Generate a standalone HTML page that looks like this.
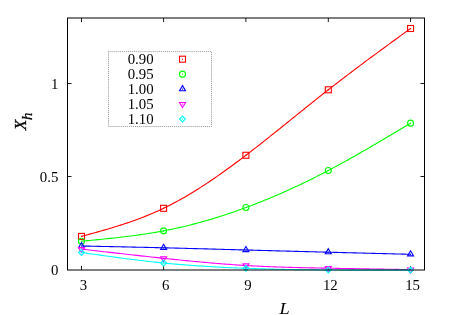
<!DOCTYPE html>
<html><head><meta charset="utf-8"><title>plot</title><style>html,body{margin:0;padding:0;background:#fff}body{width:450px;height:315px;position:relative;overflow:hidden}</style></head><body>
<svg width="450" height="315" viewBox="0 0 450 315" style="position:absolute;left:0;top:0;will-change:transform">
<path d="M81.50,270.0 v-4 M81.50,18.0 v4" stroke="#1a1a1a" stroke-width="1" fill="none"/>
<path d="M163.60,270.0 v-4 M163.60,18.0 v4" stroke="#1a1a1a" stroke-width="1" fill="none"/>
<path d="M245.90,270.0 v-4 M245.90,18.0 v4" stroke="#1a1a1a" stroke-width="1" fill="none"/>
<path d="M328.30,270.0 v-4 M328.30,18.0 v4" stroke="#1a1a1a" stroke-width="1" fill="none"/>
<path d="M410.55,270.0 v-4 M410.55,18.0 v4" stroke="#1a1a1a" stroke-width="1" fill="none"/>
<path d="M67.5,176.50 h4 M424.5,176.50 h-4" stroke="#1a1a1a" stroke-width="1" fill="none"/>
<path d="M67.5,83.50 h4 M424.5,83.50 h-4" stroke="#1a1a1a" stroke-width="1" fill="none"/>
<rect x="108.5" y="51.6" width="103" height="74.9" fill="none" stroke="#999" stroke-width="1" stroke-dasharray="1,0.95"/>
<path d="M81.50,236.40 L83.55,235.84 L85.61,235.28 L87.66,234.72 L89.71,234.15 L91.76,233.59 L93.81,233.02 L95.87,232.45 L97.92,231.87 L99.97,231.29 L102.03,230.71 L104.08,230.12 L106.13,229.52 L108.18,228.92 L110.23,228.31 L112.29,227.69 L114.34,227.07 L116.39,226.44 L118.44,225.79 L120.50,225.14 L122.55,224.48 L124.60,223.81 L126.66,223.13 L128.71,222.43 L130.76,221.72 L132.81,221.00 L134.87,220.27 L136.92,219.52 L138.97,218.76 L141.02,217.98 L143.07,217.19 L145.13,216.38 L147.18,215.56 L149.23,214.72 L151.28,213.86 L153.34,212.98 L155.39,212.08 L157.44,211.17 L159.50,210.23 L161.55,209.28 L163.60,208.30 L165.66,207.30 L167.72,206.28 L169.77,205.24 L171.83,204.18 L173.89,203.09 L175.94,201.99 L178.00,200.87 L180.06,199.73 L182.12,198.57 L184.18,197.40 L186.23,196.20 L188.29,194.99 L190.35,193.76 L192.41,192.51 L194.46,191.25 L196.52,189.97 L198.58,188.67 L200.63,187.36 L202.69,186.03 L204.75,184.69 L206.81,183.34 L208.87,181.97 L210.92,180.58 L212.98,179.19 L215.04,177.77 L217.09,176.35 L219.15,174.92 L221.21,173.47 L223.27,172.01 L225.32,170.54 L227.38,169.05 L229.44,167.56 L231.50,166.06 L233.56,164.54 L235.61,163.02 L237.67,161.49 L239.73,159.95 L241.78,158.40 L243.84,156.84 L245.90,155.27 L247.96,153.69 L250.02,152.11 L252.08,150.52 L254.14,148.92 L256.20,147.32 L258.26,145.71 L260.32,144.09 L262.38,142.47 L264.44,140.85 L266.50,139.22 L268.56,137.58 L270.62,135.94 L272.68,134.30 L274.74,132.65 L276.80,131.01 L278.86,129.35 L280.92,127.70 L282.98,126.05 L285.04,124.39 L287.10,122.73 L289.16,121.07 L291.22,119.41 L293.28,117.75 L295.34,116.09 L297.40,114.43 L299.46,112.77 L301.52,111.11 L303.58,109.45 L305.64,107.80 L307.70,106.15 L309.76,104.50 L311.82,102.85 L313.88,101.20 L315.94,99.56 L318.00,97.92 L320.06,96.29 L322.12,94.66 L324.18,93.03 L326.24,91.41 L328.30,89.80 L330.41,88.15 L332.52,86.51 L334.63,84.88 L336.74,83.25 L338.84,81.62 L340.95,80.00 L343.06,78.39 L345.17,76.78 L347.28,75.18 L349.39,73.58 L351.50,71.98 L353.61,70.39 L355.72,68.80 L357.83,67.22 L359.93,65.64 L362.04,64.07 L364.15,62.49 L366.26,60.93 L368.37,59.36 L370.48,57.80 L372.59,56.24 L374.70,54.68 L376.81,53.13 L378.92,51.58 L381.02,50.03 L383.13,48.48 L385.24,46.94 L387.35,45.39 L389.46,43.85 L391.57,42.31 L393.68,40.78 L395.79,39.24 L397.90,37.70 L400.01,36.17 L402.11,34.63 L404.22,33.10 L406.33,31.57 L408.44,30.03 L410.55,28.50" fill="none" stroke="#ff0000" stroke-width="1.1" stroke-linejoin="round"/>
<rect x="78.50" y="233.40" width="6.00" height="6.00" fill="none" stroke="#ff0000" stroke-width="1.1"/><rect x="80.95" y="235.85" width="1.1" height="1.1" fill="#ff0000"/>
<rect x="160.60" y="205.30" width="6.00" height="6.00" fill="none" stroke="#ff0000" stroke-width="1.1"/><rect x="163.05" y="207.75" width="1.1" height="1.1" fill="#ff0000"/>
<rect x="242.90" y="152.27" width="6.00" height="6.00" fill="none" stroke="#ff0000" stroke-width="1.1"/><rect x="245.35" y="154.72" width="1.1" height="1.1" fill="#ff0000"/>
<rect x="325.30" y="86.80" width="6.00" height="6.00" fill="none" stroke="#ff0000" stroke-width="1.1"/><rect x="327.75" y="89.25" width="1.1" height="1.1" fill="#ff0000"/>
<rect x="407.55" y="25.50" width="6.00" height="6.00" fill="none" stroke="#ff0000" stroke-width="1.1"/><rect x="410.00" y="27.95" width="1.1" height="1.1" fill="#ff0000"/>
<path d="M81.50,241.20 L83.55,241.01 L85.61,240.81 L87.66,240.62 L89.71,240.43 L91.76,240.23 L93.81,240.04 L95.87,239.84 L97.92,239.64 L99.97,239.44 L102.03,239.23 L104.08,239.03 L106.13,238.82 L108.18,238.61 L110.23,238.39 L112.29,238.17 L114.34,237.95 L116.39,237.72 L118.44,237.49 L120.50,237.26 L122.55,237.02 L124.60,236.77 L126.66,236.52 L128.71,236.27 L130.76,236.01 L132.81,235.74 L134.87,235.47 L136.92,235.19 L138.97,234.90 L141.02,234.61 L143.07,234.31 L145.13,234.00 L147.18,233.68 L149.23,233.36 L151.28,233.03 L153.34,232.69 L155.39,232.34 L157.44,231.98 L159.50,231.61 L161.55,231.24 L163.60,230.85 L165.66,230.45 L167.72,230.05 L169.77,229.63 L171.83,229.20 L173.89,228.76 L175.94,228.32 L178.00,227.86 L180.06,227.40 L182.12,226.92 L184.18,226.43 L186.23,225.94 L188.29,225.43 L190.35,224.92 L192.41,224.40 L194.46,223.86 L196.52,223.32 L198.58,222.77 L200.63,222.21 L202.69,221.64 L204.75,221.06 L206.81,220.47 L208.87,219.87 L210.92,219.26 L212.98,218.65 L215.04,218.02 L217.09,217.39 L219.15,216.74 L221.21,216.09 L223.27,215.43 L225.32,214.76 L227.38,214.08 L229.44,213.39 L231.50,212.69 L233.56,211.99 L235.61,211.27 L237.67,210.55 L239.73,209.82 L241.78,209.08 L243.84,208.33 L245.90,207.57 L247.96,206.80 L250.02,206.03 L252.08,205.24 L254.14,204.45 L256.20,203.65 L258.26,202.84 L260.32,202.02 L262.38,201.20 L264.44,200.36 L266.50,199.52 L268.56,198.67 L270.62,197.81 L272.68,196.95 L274.74,196.07 L276.80,195.19 L278.86,194.29 L280.92,193.39 L282.98,192.49 L285.04,191.57 L287.10,190.65 L289.16,189.71 L291.22,188.77 L293.28,187.83 L295.34,186.87 L297.40,185.90 L299.46,184.93 L301.52,183.95 L303.58,182.96 L305.64,181.97 L307.70,180.96 L309.76,179.95 L311.82,178.93 L313.88,177.91 L315.94,176.87 L318.00,175.83 L320.06,174.78 L322.12,173.72 L324.18,172.65 L326.24,171.58 L328.30,170.50 L330.41,169.39 L332.52,168.26 L334.63,167.13 L336.74,166.00 L338.84,164.85 L340.95,163.70 L343.06,162.54 L345.17,161.38 L347.28,160.21 L349.39,159.03 L351.50,157.85 L353.61,156.66 L355.72,155.46 L357.83,154.26 L359.93,153.06 L362.04,151.85 L364.15,150.63 L366.26,149.41 L368.37,148.19 L370.48,146.96 L372.59,145.73 L374.70,144.50 L376.81,143.26 L378.92,142.02 L381.02,140.77 L383.13,139.53 L385.24,138.28 L387.35,137.02 L389.46,135.77 L391.57,134.51 L393.68,133.25 L395.79,131.99 L397.90,130.73 L400.01,129.47 L402.11,128.20 L404.22,126.94 L406.33,125.67 L408.44,124.41 L410.55,123.14" fill="none" stroke="#00ff00" stroke-width="1.1" stroke-linejoin="round"/>
<circle cx="81.50" cy="241.20" r="3.00" fill="none" stroke="#00ff00" stroke-width="1.1"/><rect x="80.95" y="240.65" width="1.1" height="1.1" fill="#00ff00"/>
<circle cx="163.60" cy="230.85" r="3.00" fill="none" stroke="#00ff00" stroke-width="1.1"/><rect x="163.05" y="230.30" width="1.1" height="1.1" fill="#00ff00"/>
<circle cx="245.90" cy="207.57" r="3.00" fill="none" stroke="#00ff00" stroke-width="1.1"/><rect x="245.35" y="207.02" width="1.1" height="1.1" fill="#00ff00"/>
<circle cx="328.30" cy="170.50" r="3.00" fill="none" stroke="#00ff00" stroke-width="1.1"/><rect x="327.75" y="169.95" width="1.1" height="1.1" fill="#00ff00"/>
<circle cx="410.55" cy="123.14" r="3.00" fill="none" stroke="#00ff00" stroke-width="1.1"/><rect x="410.00" y="122.59" width="1.1" height="1.1" fill="#00ff00"/>
<path d="M81.50,246.00 L83.55,246.04 L85.61,246.08 L87.66,246.13 L89.71,246.17 L91.76,246.21 L93.81,246.25 L95.87,246.30 L97.92,246.34 L99.97,246.38 L102.03,246.43 L104.08,246.47 L106.13,246.51 L108.18,246.55 L110.23,246.60 L112.29,246.64 L114.34,246.69 L116.39,246.73 L118.44,246.77 L120.50,246.82 L122.55,246.86 L124.60,246.91 L126.66,246.95 L128.71,246.99 L130.76,247.04 L132.81,247.09 L134.87,247.13 L136.92,247.18 L138.97,247.22 L141.02,247.27 L143.07,247.32 L145.13,247.36 L147.18,247.41 L149.23,247.46 L151.28,247.51 L153.34,247.55 L155.39,247.60 L157.44,247.65 L159.50,247.70 L161.55,247.75 L163.60,247.80 L165.66,247.85 L167.72,247.90 L169.77,247.95 L171.83,248.00 L173.89,248.06 L175.94,248.11 L178.00,248.16 L180.06,248.21 L182.12,248.27 L184.18,248.32 L186.23,248.37 L188.29,248.43 L190.35,248.48 L192.41,248.54 L194.46,248.59 L196.52,248.65 L198.58,248.70 L200.63,248.76 L202.69,248.81 L204.75,248.87 L206.81,248.92 L208.87,248.98 L210.92,249.04 L212.98,249.09 L215.04,249.15 L217.09,249.21 L219.15,249.26 L221.21,249.32 L223.27,249.38 L225.32,249.43 L227.38,249.49 L229.44,249.55 L231.50,249.60 L233.56,249.66 L235.61,249.72 L237.67,249.77 L239.73,249.83 L241.78,249.89 L243.84,249.94 L245.90,250.00 L247.96,250.06 L250.02,250.11 L252.08,250.17 L254.14,250.23 L256.20,250.28 L258.26,250.34 L260.32,250.39 L262.38,250.45 L264.44,250.51 L266.50,250.56 L268.56,250.62 L270.62,250.67 L272.68,250.73 L274.74,250.78 L276.80,250.84 L278.86,250.89 L280.92,250.95 L282.98,251.01 L285.04,251.06 L287.10,251.12 L289.16,251.17 L291.22,251.23 L293.28,251.28 L295.34,251.33 L297.40,251.39 L299.46,251.44 L301.52,251.50 L303.58,251.55 L305.64,251.61 L307.70,251.66 L309.76,251.72 L311.82,251.77 L313.88,251.82 L315.94,251.88 L318.00,251.93 L320.06,251.99 L322.12,252.04 L324.18,252.09 L326.24,252.15 L328.30,252.20 L330.41,252.25 L332.52,252.31 L334.63,252.36 L336.74,252.42 L338.84,252.47 L340.95,252.53 L343.06,252.58 L345.17,252.64 L347.28,252.69 L349.39,252.74 L351.50,252.80 L353.61,252.85 L355.72,252.91 L357.83,252.96 L359.93,253.01 L362.04,253.07 L364.15,253.12 L366.26,253.18 L368.37,253.23 L370.48,253.28 L372.59,253.34 L374.70,253.39 L376.81,253.44 L378.92,253.50 L381.02,253.55 L383.13,253.61 L385.24,253.66 L387.35,253.71 L389.46,253.77 L391.57,253.82 L393.68,253.87 L395.79,253.93 L397.90,253.98 L400.01,254.03 L402.11,254.09 L404.22,254.14 L406.33,254.19 L408.44,254.25 L410.55,254.30" fill="none" stroke="#0000ff" stroke-width="1.1" stroke-linejoin="round"/>
<path d="M81.50,242.50 L84.50,247.60 L78.50,247.60 Z" fill="none" stroke="#0000ff" stroke-width="1.1"/><rect x="80.95" y="245.45" width="1.1" height="1.1" fill="#0000ff"/>
<path d="M163.60,244.30 L166.60,249.40 L160.60,249.40 Z" fill="none" stroke="#0000ff" stroke-width="1.1"/><rect x="163.05" y="247.25" width="1.1" height="1.1" fill="#0000ff"/>
<path d="M245.90,246.50 L248.90,251.60 L242.90,251.60 Z" fill="none" stroke="#0000ff" stroke-width="1.1"/><rect x="245.35" y="249.45" width="1.1" height="1.1" fill="#0000ff"/>
<path d="M328.30,248.70 L331.30,253.80 L325.30,253.80 Z" fill="none" stroke="#0000ff" stroke-width="1.1"/><rect x="327.75" y="251.65" width="1.1" height="1.1" fill="#0000ff"/>
<path d="M410.55,250.80 L413.55,255.90 L407.55,255.90 Z" fill="none" stroke="#0000ff" stroke-width="1.1"/><rect x="410.00" y="253.75" width="1.1" height="1.1" fill="#0000ff"/>
<path d="M81.50,249.10 L83.55,249.34 L85.61,249.57 L87.66,249.81 L89.71,250.04 L91.76,250.28 L93.81,250.52 L95.87,250.75 L97.92,250.99 L99.97,251.22 L102.03,251.46 L104.08,251.69 L106.13,251.93 L108.18,252.16 L110.23,252.39 L112.29,252.63 L114.34,252.86 L116.39,253.09 L118.44,253.33 L120.50,253.56 L122.55,253.79 L124.60,254.02 L126.66,254.25 L128.71,254.48 L130.76,254.71 L132.81,254.94 L134.87,255.17 L136.92,255.40 L138.97,255.63 L141.02,255.85 L143.07,256.08 L145.13,256.31 L147.18,256.53 L149.23,256.75 L151.28,256.98 L153.34,257.20 L155.39,257.42 L157.44,257.64 L159.50,257.86 L161.55,258.08 L163.60,258.30 L165.66,258.52 L167.72,258.73 L169.77,258.95 L171.83,259.17 L173.89,259.38 L175.94,259.59 L178.00,259.80 L180.06,260.01 L182.12,260.22 L184.18,260.43 L186.23,260.63 L188.29,260.83 L190.35,261.03 L192.41,261.23 L194.46,261.43 L196.52,261.63 L198.58,261.82 L200.63,262.01 L202.69,262.20 L204.75,262.38 L206.81,262.57 L208.87,262.75 L210.92,262.93 L212.98,263.10 L215.04,263.28 L217.09,263.45 L219.15,263.62 L221.21,263.78 L223.27,263.94 L225.32,264.10 L227.38,264.26 L229.44,264.41 L231.50,264.56 L233.56,264.70 L235.61,264.85 L237.67,264.98 L239.73,265.12 L241.78,265.25 L243.84,265.38 L245.90,265.50 L247.96,265.62 L250.02,265.74 L252.08,265.85 L254.14,265.96 L256.20,266.06 L258.26,266.16 L260.32,266.26 L262.38,266.35 L264.44,266.45 L266.50,266.53 L268.56,266.62 L270.62,266.70 L272.68,266.78 L274.74,266.86 L276.80,266.93 L278.86,267.00 L280.92,267.07 L282.98,267.14 L285.04,267.21 L287.10,267.27 L289.16,267.33 L291.22,267.39 L293.28,267.44 L295.34,267.50 L297.40,267.55 L299.46,267.60 L301.52,267.65 L303.58,267.70 L305.64,267.75 L307.70,267.79 L309.76,267.84 L311.82,267.88 L313.88,267.92 L315.94,267.96 L318.00,268.00 L320.06,268.04 L322.12,268.08 L324.18,268.12 L326.24,268.16 L328.30,268.20 L330.41,268.24 L332.52,268.28 L334.63,268.32 L336.74,268.35 L338.84,268.39 L340.95,268.43 L343.06,268.47 L345.17,268.51 L347.28,268.54 L349.39,268.58 L351.50,268.62 L353.61,268.65 L355.72,268.69 L357.83,268.73 L359.93,268.76 L362.04,268.80 L364.15,268.83 L366.26,268.87 L368.37,268.91 L370.48,268.94 L372.59,268.98 L374.70,269.01 L376.81,269.05 L378.92,269.08 L381.02,269.12 L383.13,269.15 L385.24,269.19 L387.35,269.22 L389.46,269.26 L391.57,269.29 L393.68,269.32 L395.79,269.36 L397.90,269.39 L400.01,269.43 L402.11,269.46 L404.22,269.50 L406.33,269.53 L408.44,269.57 L410.55,269.60" fill="none" stroke="#ff00ff" stroke-width="1.1" stroke-linejoin="round"/>
<path d="M81.50,252.60 L84.50,247.50 L78.50,247.50 Z" fill="none" stroke="#ff00ff" stroke-width="1.1"/><rect x="80.95" y="248.55" width="1.1" height="1.1" fill="#ff00ff"/>
<path d="M163.60,261.80 L166.60,256.70 L160.60,256.70 Z" fill="none" stroke="#ff00ff" stroke-width="1.1"/><rect x="163.05" y="257.75" width="1.1" height="1.1" fill="#ff00ff"/>
<path d="M245.90,269.00 L248.90,263.90 L242.90,263.90 Z" fill="none" stroke="#ff00ff" stroke-width="1.1"/><rect x="245.35" y="264.95" width="1.1" height="1.1" fill="#ff00ff"/>
<path d="M328.30,271.70 L331.30,266.60 L325.30,266.60 Z" fill="none" stroke="#ff00ff" stroke-width="1.1"/><rect x="327.75" y="267.65" width="1.1" height="1.1" fill="#ff00ff"/>
<path d="M410.55,273.10 L413.55,268.00 L407.55,268.00 Z" fill="none" stroke="#ff00ff" stroke-width="1.1"/><rect x="410.00" y="269.05" width="1.1" height="1.1" fill="#ff00ff"/>
<path d="M81.50,252.50 L83.55,252.79 L85.61,253.08 L87.66,253.37 L89.71,253.67 L91.76,253.96 L93.81,254.25 L95.87,254.54 L97.92,254.82 L99.97,255.11 L102.03,255.40 L104.08,255.68 L106.13,255.97 L108.18,256.25 L110.23,256.53 L112.29,256.81 L114.34,257.09 L116.39,257.37 L118.44,257.64 L120.50,257.92 L122.55,258.19 L124.60,258.46 L126.66,258.72 L128.71,258.99 L130.76,259.25 L132.81,259.51 L134.87,259.76 L136.92,260.02 L138.97,260.27 L141.02,260.51 L143.07,260.76 L145.13,261.00 L147.18,261.24 L149.23,261.47 L151.28,261.70 L153.34,261.93 L155.39,262.15 L157.44,262.37 L159.50,262.58 L161.55,262.79 L163.60,263.00 L165.66,263.20 L167.72,263.40 L169.77,263.59 L171.83,263.78 L173.89,263.97 L175.94,264.15 L178.00,264.33 L180.06,264.50 L182.12,264.67 L184.18,264.84 L186.23,265.00 L188.29,265.16 L190.35,265.31 L192.41,265.46 L194.46,265.61 L196.52,265.75 L198.58,265.89 L200.63,266.03 L202.69,266.16 L204.75,266.29 L206.81,266.42 L208.87,266.54 L210.92,266.66 L212.98,266.78 L215.04,266.90 L217.09,267.01 L219.15,267.12 L221.21,267.22 L223.27,267.33 L225.32,267.43 L227.38,267.53 L229.44,267.62 L231.50,267.71 L233.56,267.80 L235.61,267.89 L237.67,267.98 L239.73,268.06 L241.78,268.14 L243.84,268.22 L245.90,268.30 L247.96,268.38 L250.02,268.45 L252.08,268.52 L254.14,268.59 L256.20,268.66 L258.26,268.72 L260.32,268.79 L262.38,268.85 L264.44,268.91 L266.50,268.96 L268.56,269.02 L270.62,269.08 L272.68,269.13 L274.74,269.18 L276.80,269.23 L278.86,269.28 L280.92,269.32 L282.98,269.37 L285.04,269.41 L287.10,269.45 L289.16,269.49 L291.22,269.53 L293.28,269.57 L295.34,269.60 L297.40,269.64 L299.46,269.67 L301.52,269.70 L303.58,269.73 L305.64,269.76 L307.70,269.79 L309.76,269.82 L311.82,269.84 L313.88,269.86 L315.94,269.89 L318.00,269.91 L320.06,269.93 L322.12,269.95 L324.18,269.97 L326.24,269.98 L328.30,270.00 L330.41,270.02 L332.52,270.03 L334.63,270.04 L336.74,270.06 L338.84,270.07 L340.95,270.08 L343.06,270.09 L345.17,270.10 L347.28,270.11 L349.39,270.11 L351.50,270.12 L353.61,270.13 L355.72,270.13 L357.83,270.14 L359.93,270.14 L362.04,270.14 L364.15,270.14 L366.26,270.15 L368.37,270.15 L370.48,270.15 L372.59,270.15 L374.70,270.15 L376.81,270.15 L378.92,270.15 L381.02,270.15 L383.13,270.14 L385.24,270.14 L387.35,270.14 L389.46,270.14 L391.57,270.13 L393.68,270.13 L395.79,270.13 L397.90,270.12 L400.01,270.12 L402.11,270.12 L404.22,270.11 L406.33,270.11 L408.44,270.10 L410.55,270.10" fill="none" stroke="#00ffff" stroke-width="1.1" stroke-linejoin="round"/>
<path d="M81.50,249.65 L84.35,252.50 L81.50,255.35 L78.65,252.50 Z" fill="none" stroke="#00ffff" stroke-width="1.1"/><rect x="80.95" y="251.95" width="1.1" height="1.1" fill="#00ffff"/>
<path d="M163.60,260.15 L166.45,263.00 L163.60,265.85 L160.75,263.00 Z" fill="none" stroke="#00ffff" stroke-width="1.1"/><rect x="163.05" y="262.45" width="1.1" height="1.1" fill="#00ffff"/>
<path d="M245.90,265.45 L248.75,268.30 L245.90,271.15 L243.05,268.30 Z" fill="none" stroke="#00ffff" stroke-width="1.1"/><rect x="245.35" y="267.75" width="1.1" height="1.1" fill="#00ffff"/>
<path d="M328.30,267.15 L331.15,270.00 L328.30,272.85 L325.45,270.00 Z" fill="none" stroke="#00ffff" stroke-width="1.1"/><rect x="327.75" y="269.45" width="1.1" height="1.1" fill="#00ffff"/>
<path d="M410.55,267.25 L413.40,270.10 L410.55,272.95 L407.70,270.10 Z" fill="none" stroke="#00ffff" stroke-width="1.1"/><rect x="410.00" y="269.55" width="1.1" height="1.1" fill="#00ffff"/>
<rect x="67.5" y="18.0" width="357.0" height="252.0" fill="none" stroke="#000" stroke-width="1"/>
<rect x="179.50" y="56.20" width="6.00" height="6.00" fill="none" stroke="#ff0000" stroke-width="1.1"/><rect x="181.95" y="58.65" width="1.1" height="1.1" fill="#ff0000"/>
<circle cx="182.50" cy="74.15" r="3.00" fill="none" stroke="#00ff00" stroke-width="1.1"/><rect x="181.95" y="73.60" width="1.1" height="1.1" fill="#00ff00"/>
<path d="M182.50,85.60 L185.50,90.70 L179.50,90.70 Z" fill="none" stroke="#0000ff" stroke-width="1.1"/><rect x="181.95" y="88.55" width="1.1" height="1.1" fill="#0000ff"/>
<path d="M182.50,107.55 L185.50,102.45 L179.50,102.45 Z" fill="none" stroke="#ff00ff" stroke-width="1.1"/><rect x="181.95" y="103.50" width="1.1" height="1.1" fill="#ff00ff"/>
<path d="M182.50,116.15 L185.35,119.00 L182.50,121.85 L179.65,119.00 Z" fill="none" stroke="#00ffff" stroke-width="1.1"/><rect x="181.95" y="118.45" width="1.1" height="1.1" fill="#00ffff"/>
<text transform="translate(83.50,290.3) scale(1.03,1)" text-anchor="middle" style="font-family:'Liberation Serif',serif;font-size:14.4px;fill:#000">3</text>
<text transform="translate(165.60,290.3) scale(1.03,1)" text-anchor="middle" style="font-family:'Liberation Serif',serif;font-size:14.4px;fill:#000">6</text>
<text transform="translate(247.90,290.3) scale(1.03,1)" text-anchor="middle" style="font-family:'Liberation Serif',serif;font-size:14.4px;fill:#000">9</text>
<text transform="translate(330.30,290.3) scale(1.03,1)" text-anchor="middle" style="font-family:'Liberation Serif',serif;font-size:14.4px;fill:#000">12</text>
<text transform="translate(412.55,290.3) scale(1.03,1)" text-anchor="middle" style="font-family:'Liberation Serif',serif;font-size:14.4px;fill:#000">15</text>
<text transform="translate(58.4,274.50) scale(1.03,1)" text-anchor="end" style="font-family:'Liberation Serif',serif;font-size:14.4px;fill:#000">0</text>
<text transform="translate(58.4,181.50) scale(1.03,1)" text-anchor="end" style="font-family:'Liberation Serif',serif;font-size:14.4px;fill:#000">0.5</text>
<text transform="translate(58.4,88.50) scale(1.03,1)" text-anchor="end" style="font-family:'Liberation Serif',serif;font-size:14.4px;fill:#000">1</text>
<text transform="translate(153.6,63.80) scale(1.03,1)" text-anchor="end" style="font-family:'Liberation Serif',serif;font-size:14.4px;fill:#000">0.90</text>
<text transform="translate(153.6,78.75) scale(1.03,1)" text-anchor="end" style="font-family:'Liberation Serif',serif;font-size:14.4px;fill:#000">0.95</text>
<text transform="translate(153.6,93.70) scale(1.03,1)" text-anchor="end" style="font-family:'Liberation Serif',serif;font-size:14.4px;fill:#000">1.00</text>
<text transform="translate(153.6,108.65) scale(1.03,1)" text-anchor="end" style="font-family:'Liberation Serif',serif;font-size:14.4px;fill:#000">1.05</text>
<text transform="translate(153.6,123.60) scale(1.03,1)" text-anchor="end" style="font-family:'Liberation Serif',serif;font-size:14.4px;fill:#000">1.10</text>
<text transform="translate(279.6,313.6) scale(1.04,1)" style="font-family:'Liberation Serif',serif;font-style:italic;fill:#000;font-size:17.6px">L</text>
<text transform="translate(26.3,130.2) rotate(-90) scale(1.02,1)" style="font-family:'Liberation Serif',serif;font-style:italic;fill:#000;font-size:17px;stroke:#000;stroke-width:0.3">X</text>
<text transform="translate(31.9,119.9) rotate(-90) scale(1.06,1)" style="font-family:'Liberation Serif',serif;font-style:italic;fill:#000;font-size:14px;stroke:#000;stroke-width:0.25">h</text>
</svg>
</body></html>
